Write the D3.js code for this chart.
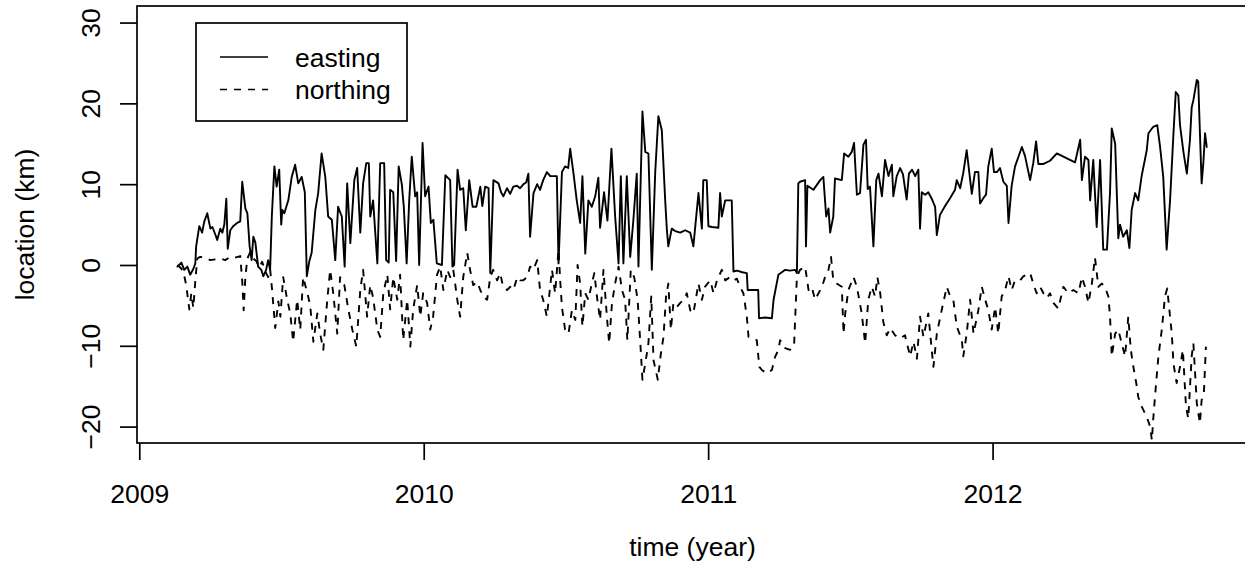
<!DOCTYPE html>
<html><head><meta charset="utf-8">
<script src="https://cdn.jsdelivr.net/npm/d3@7"></script>
<style>
body{margin:0;background:#fff}
svg{display:block}
text{font-family:"Liberation Sans",Arial,Helvetica,sans-serif;fill:#000}
</style>
</head><body>
<svg id="chart" width="1245" height="575"></svg>
<script>
// ---------- data ----------
const eastTime = [2009.134,2009.148,2009.158,2009.169,2009.179,2009.190,2009.197,2009.200,2009.211,2009.221,2009.228,2009.239,2009.250,2009.257,2009.267,2009.274,2009.285,2009.292,2009.299,2009.306,2009.311,2009.320,2009.330,2009.344,2009.355,2009.362,2009.373,2009.380,2009.388,2009.395,2009.401,2009.408,2009.418,2009.429,2009.436,2009.446,2009.453,2009.460,2009.466,2009.475,2009.483,2009.492,2009.499,2009.503,2009.510,2009.524,2009.536,2009.548,2009.559,2009.571,2009.582,2009.589,2009.598,2009.606,2009.619,2009.629,2009.641,2009.654,2009.664,2009.677,2009.689,2009.699,2009.712,2009.722,2009.731,2009.742,2009.756,2009.766,2009.777,2009.787,2009.798,2009.807,2009.812,2009.822,2009.837,2009.847,2009.861,2009.868,2009.877,2009.882,2009.893,2009.903,2009.912,2009.923,2009.930,2009.940,2009.949,2009.958,2009.970,2009.977,2009.984,2009.996,2010.005,2010.017,2010.025,2010.034,2010.046,2010.064,2010.076,2010.093,2010.101,2010.107,2010.119,2010.128,2010.139,2010.148,2010.160,2010.172,2010.185,2010.199,2010.206,2010.216,2010.228,2010.234,2010.245,2010.263,2010.272,2010.280,2010.293,2010.304,2010.315,2010.328,2010.339,2010.351,2010.360,2010.368,2010.374,2010.386,2010.399,2010.409,2010.420,2010.433,2010.445,2010.468,2010.474,2010.486,2010.497,2010.508,2010.515,2010.527,2010.538,2010.550,2010.558,2010.568,2010.579,2010.591,2010.603,2010.614,2010.620,2010.634,2010.646,2010.660,2010.673,2010.685,2010.693,2010.702,2010.714,2010.726,2010.737,2010.749,2010.755,2010.769,2010.779,2010.790,2010.802,2010.814,2010.825,2010.837,2010.849,2010.855,2010.860,2010.872,2010.884,2010.902,2010.919,2010.937,2010.948,2010.966,2010.978,2010.983,2010.995,2011.001,2011.014,2011.036,2011.042,2011.048,2011.060,2011.083,2011.089,2011.102,2011.120,2011.136,2011.139,2011.176,2011.179,2011.200,2011.224,2011.230,2011.247,2011.271,2011.288,2011.306,2011.312,2011.317,2011.323,2011.341,2011.344,2011.349,2011.370,2011.394,2011.405,2011.415,2011.423,2011.429,2011.440,2011.446,2011.470,2011.478,2011.493,2011.505,2011.513,2011.523,2011.534,2011.546,2011.555,2011.561,2011.569,2011.581,2011.591,2011.599,2011.611,2011.622,2011.634,2011.646,2011.651,2011.663,2011.675,2011.685,2011.698,2011.706,2011.717,2011.728,2011.739,2011.745,2011.751,2011.763,2011.774,2011.786,2011.798,2011.804,2011.815,2011.833,2011.851,2011.868,2011.874,2011.886,2011.897,2011.909,2011.918,2011.927,2011.938,2011.950,2011.956,2011.968,2011.977,2011.985,2011.997,2012.005,2012.016,2012.026,2012.038,2012.050,2012.056,2012.067,2012.079,2012.091,2012.103,2012.114,2012.132,2012.143,2012.153,2012.161,2012.179,2012.202,2012.226,2012.249,2012.272,2012.290,2012.308,2012.314,2012.325,2012.337,2012.343,2012.354,2012.366,2012.378,2012.389,2012.402,2012.413,2012.419,2012.431,2012.442,2012.448,2012.459,2012.472,2012.481,2012.489,2012.501,2012.512,2012.524,2012.542,2012.548,2012.565,2012.579,2012.589,2012.600,2012.612,2012.624,2012.636,2012.644,2012.653,2012.659,2012.671,2012.683,2012.694,2012.700,2012.706,2012.718,2012.723,2012.729,2012.735,2012.741,2012.747,2012.753];
const eastKm = [-0.2,0.3,-0.6,-0.2,-1.2,-0.5,0.2,2.3,4.8,4.0,5.3,6.4,4.5,4.7,3.8,3.1,4.5,4.0,5.0,8.2,2.0,4.3,4.8,5.2,5.4,10.3,7.0,6.4,2.3,0.6,3.5,2.8,-0.2,-0.6,-1.4,-0.6,0.6,-0.6,6.0,12.2,9.7,11.8,5.0,6.8,6.4,8.0,10.9,12.4,10.1,10.9,9.0,-1.4,0.5,1.5,6.8,8.9,13.8,10.9,6.0,5.6,0.6,7.2,6.0,-0.2,10.1,2.7,10.5,12.0,4.0,10.1,12.6,12.6,6.0,8.0,0.2,12.6,12.6,0.6,0.3,9.3,9.0,0.5,12.2,10.0,7.2,0.2,8.0,13.4,8.5,9.0,0.0,15.1,8.5,9.7,5.2,5.6,0.2,0.0,11.1,10.5,-0.2,0.0,11.8,9.3,9.5,4.3,10.5,7.2,7.2,9.7,7.3,9.7,9.5,-1.0,10.5,10.1,9.0,8.5,9.5,8.8,9.7,9.8,9.5,10.0,10.2,11.3,3.5,8.9,10.0,9.3,10.5,11.5,11.0,11.0,0.2,11.5,12.2,12.0,14.4,11.2,8.0,5.2,11.0,1.4,8.0,7.2,8.5,10.8,4.6,9.0,5.5,14.4,6.0,0.2,11.0,0.2,11.0,1.0,5.5,11.3,-0.2,19.0,14.0,13.8,-0.6,11.5,18.4,16.7,8.0,4.3,2.3,4.5,4.2,4.0,4.3,4.0,2.3,8.9,4.5,10.5,10.5,4.8,4.7,4.6,8.9,6.0,8.0,8.0,-0.8,-0.7,-0.9,-1.0,-3.1,-3.1,-6.6,-6.5,-6.6,-4.3,-1.2,-0.6,-0.7,-0.6,-1.0,10.1,10.3,10.5,2.3,9.8,9.3,10.5,10.9,6.0,7.0,4.0,6.0,10.7,10.5,13.8,13.4,14.0,15.1,8.7,8.9,14.9,15.5,9.4,9.7,2.3,10.5,11.3,8.5,13.0,11.0,12.4,8.5,11.0,12.0,11.2,8.1,11.3,11.8,11.0,11.8,4.5,9.0,8.7,9.0,8.2,7.2,3.7,6.2,7.3,8.3,9.3,10.5,9.5,11.4,14.2,11.5,8.8,11.5,11.5,7.6,8.3,8.7,12.2,14.4,11.5,11.5,12.0,10.3,9.8,5.2,9.8,12.2,13.4,14.6,13.5,10.5,12.6,15.3,12.5,12.5,12.9,13.8,13.4,13.0,12.7,15.5,10.5,13.4,13.0,8.0,13.0,4.7,13.0,1.9,1.9,9.0,16.9,15.0,3.3,5.0,3.5,4.3,2.1,6.8,8.9,8.0,11.0,14.2,16.3,17.1,17.3,14.6,10.9,1.9,8.0,16.3,21.4,21.0,17.3,14.0,11.3,15.5,19.5,20.4,22.9,22.7,16.3,10.1,12.6,16.3,14.6];

const northTime = [2009.134,2009.144,2009.155,2009.165,2009.176,2009.183,2009.190,2009.197,2009.204,2009.214,2009.232,2009.250,2009.267,2009.285,2009.302,2009.320,2009.337,2009.355,2009.362,2009.367,2009.373,2009.380,2009.390,2009.401,2009.411,2009.422,2009.432,2009.443,2009.453,2009.460,2009.467,2009.478,2009.489,2009.496,2009.506,2009.520,2009.531,2009.541,2009.555,2009.566,2009.576,2009.591,2009.601,2009.612,2009.626,2009.636,2009.647,2009.661,2009.671,2009.682,2009.696,2009.706,2009.721,2009.735,2009.749,2009.763,2009.777,2009.787,2009.801,2009.812,2009.822,2009.837,2009.847,2009.858,2009.872,2009.882,2009.893,2009.907,2009.917,2009.928,2009.942,2009.953,2009.963,2009.977,2009.988,2009.998,2010.012,2010.023,2010.033,2010.047,2010.058,2010.069,2010.083,2010.093,2010.104,2010.118,2010.128,2010.139,2010.153,2010.163,2010.174,2010.188,2010.199,2010.209,2010.223,2010.234,2010.244,2010.258,2010.269,2010.279,2010.293,2010.304,2010.315,2010.329,2010.339,2010.350,2010.364,2010.374,2010.385,2010.399,2010.409,2010.420,2010.433,2010.451,2010.462,2010.474,2010.480,2010.486,2010.497,2010.509,2010.521,2010.533,2010.541,2010.550,2010.558,2010.568,2010.579,2010.591,2010.600,2010.609,2010.620,2010.632,2010.644,2010.652,2010.662,2010.673,2010.685,2010.697,2010.708,2010.716,2010.728,2010.740,2010.752,2010.761,2010.769,2010.779,2010.790,2010.800,2010.808,2010.823,2010.834,2010.843,2010.852,2010.860,2010.869,2010.878,2010.890,2010.902,2010.913,2010.925,2010.937,2010.948,2010.966,2010.978,2010.989,2011.007,2011.019,2011.031,2011.048,2011.060,2011.077,2011.089,2011.101,2011.112,2011.124,2011.136,2011.142,2011.154,2011.171,2011.180,2011.189,2011.206,2011.224,2011.235,2011.247,2011.253,2011.271,2011.288,2011.302,2011.312,2011.323,2011.341,2011.353,2011.364,2011.376,2011.388,2011.400,2011.411,2011.423,2011.432,2011.440,2011.452,2011.470,2011.476,2011.482,2011.493,2011.511,2011.523,2011.540,2011.552,2011.563,2011.575,2011.587,2011.595,2011.605,2011.616,2011.628,2011.640,2011.657,2011.675,2011.692,2011.710,2011.722,2011.734,2011.745,2011.757,2011.774,2011.786,2011.792,2011.804,2011.821,2011.839,2011.851,2011.862,2011.874,2011.892,2011.897,2011.909,2011.921,2011.933,2011.950,2011.962,2011.974,2011.985,2011.997,2012.009,2012.020,2012.032,2012.044,2012.056,2012.067,2012.079,2012.097,2012.108,2012.132,2012.143,2012.155,2012.167,2012.179,2012.191,2012.202,2012.214,2012.231,2012.249,2012.266,2012.284,2012.302,2012.314,2012.325,2012.337,2012.349,2012.360,2012.372,2012.384,2012.395,2012.407,2012.413,2012.419,2012.431,2012.442,2012.454,2012.466,2012.477,2012.486,2012.495,2012.507,2012.512,2012.524,2012.542,2012.554,2012.560,2012.565,2012.571,2012.577,2012.583,2012.595,2012.606,2012.614,2012.624,2012.630,2012.636,2012.647,2012.659,2012.669,2012.680,2012.688,2012.700,2012.706,2012.712,2012.718,2012.729,2012.735,2012.743,2012.750];
const northKm = [0.0,-0.3,-0.8,-2.5,-5.5,-3.5,-5.3,-2.0,0.8,1.0,0.9,0.6,0.7,0.8,0.6,1.0,0.9,1.1,-2.0,-5.6,-1.5,0.8,1.6,0.8,0.5,-0.3,0.4,-0.8,-1.5,-0.5,-3.1,-7.8,-4.5,-6.4,-1.5,-4.3,-6.0,-9.5,-4.3,-8.0,-1.5,-3.5,-5.0,-9.5,-6.0,-8.5,-10.5,-4.3,-0.6,-3.5,-8.5,-1.5,-2.5,-5.5,-8.0,-10.1,-3.1,-0.6,-6.4,-2.5,-4.0,-8.0,-8.9,-3.5,-1.2,-5.5,-1.5,-4.3,-1.2,-9.3,-4.3,-10.1,-5.5,-2.5,-6.4,-3.5,-4.7,-8.0,-6.4,-1.2,-0.2,-3.1,-0.6,-1.5,-0.6,-4.3,-6.4,-1.5,1.5,-0.6,-2.5,-2.1,-3.1,-3.9,-4.3,-1.5,-0.6,-1.9,-1.0,-2.7,-3.1,-2.7,-3.1,-1.5,-1.9,-1.9,-1.5,-0.2,-0.6,0.6,-3.1,-4.3,-6.4,-0.6,-3.5,1.9,-2.0,-5.2,-8.0,-8.5,-5.6,-6.8,0.0,-2.3,-7.6,-3.5,-4.3,-2.3,-1.0,-3.9,-6.8,-0.6,-6.4,-9.7,-4.7,-2.3,-0.2,-3.1,-4.3,-9.3,-0.6,-1.5,-4.3,-9.3,-14.2,-12.2,-9.7,-3.9,-11.8,-14.2,-10.9,-8.9,-3.9,-2.3,-8.0,-4.7,-5.2,-4.7,-4.3,-3.5,-5.6,-6.0,-2.3,-4.3,-2.7,-1.9,-3.5,-1.9,-0.6,-1.9,-1.5,-1.9,-1.7,-2.7,-3.5,-6.4,-8.9,-9.1,-9.3,-12.6,-13.0,-13.4,-13.0,-11.4,-10.5,-9.3,-10.3,-10.5,-10.1,-1.5,-0.6,-0.2,-3.1,-2.7,-4.3,-3.5,-2.7,-1.5,-0.6,1.0,-1.9,-2.3,-2.7,-8.5,-6.0,-3.1,-1.5,-2.7,-6.0,-9.7,-4.3,-2.7,-3.9,-1.5,-3.5,-7.1,-8.7,-7.8,-8.7,-9.1,-8.7,-11.3,-9.5,-11.6,-6.4,-8.9,-6.0,-10.5,-12.6,-8.5,-5.6,-2.7,-3.9,-4.3,-7.6,-9.3,-11.3,-8.5,-4.3,-8.5,-5.6,-2.7,-4.3,-5.6,-8.0,-5.2,-8.5,-3.9,-3.1,-1.4,-3.1,-1.9,-1.9,-1.4,-1.0,-2.3,-3.5,-2.7,-3.5,-4.1,-3.5,-4.7,-5.4,-2.7,-3.5,-3.1,-3.5,-1.5,-2.7,-4.7,-2.3,0.9,-2.7,-2.3,-2.7,-3.9,-6.4,-11.3,-8.5,-8.0,-9.7,-11.3,-6.4,-10.5,-12.6,-15.0,-16.3,-17.5,-18.8,-20.0,-21.7,-19.0,-16.3,-13.8,-11.3,-8.0,-3.9,-2.9,-6.4,-8.5,-12.2,-14.6,-12.6,-10.5,-17.5,-19.0,-11.3,-9.7,-13.4,-17.1,-19.6,-16.7,-15.8,-10.1];

const xTicks = [2009, 2010, 2011, 2012];
const yTicks = [-20, -10, 0, 10, 20, 30];
const seriesNames = ["easting", "northing"];
const xTitle = "time (year)";
const yTitle = "location (km)";
const xLimits = [2008.992, 2012.898];
const yLimits = [-22.03, 32.05];

// ---------- layout ----------
const FS = 26.5;
const LW = 1.7;
const plot = {left: 137, right: 1248, top: 6, bottom: 443};
const svg = d3.select("#chart");

const x = d3.scaleLinear().domain(xLimits).range([plot.left, plot.right]);
const y = d3.scaleLinear().domain(yLimits).range([plot.bottom, plot.top]);

const east = eastTime.map((t, i) => ({t, v: eastKm[i]}));
const north = northTime.map((t, i) => ({t, v: northKm[i]}));
const line = d3.line().x(d => x(d.t)).y(d => y(d.v));

svg.append("path").datum(east).attr("d", line)
  .attr("fill", "none").attr("stroke", "#000").attr("stroke-width", 1.9)
  .attr("stroke-linejoin", "round").attr("stroke-linecap", "round");
svg.append("path").datum(north).attr("d", line)
  .attr("fill", "none").attr("stroke", "#000").attr("stroke-width", 1.9)
  .attr("stroke-dasharray", "7,7").attr("stroke-linejoin", "round");

// box
svg.append("rect").attr("x", plot.left).attr("y", plot.top)
  .attr("width", plot.right - plot.left).attr("height", plot.bottom - plot.top)
  .attr("fill", "none").attr("stroke", "#000").attr("stroke-width", LW);

// x axis
const gx = svg.append("g").attr("transform", `translate(0,${plot.bottom})`)
  .call(d3.axisBottom(x).tickValues(xTicks).tickSize(17).tickFormat(d3.format("d")));
gx.select(".domain").remove();
gx.selectAll(".tick line").attr("stroke", "#000").attr("stroke-width", LW);
gx.selectAll(".tick text").attr("y", 60).attr("dy", 0)
  .style("font-size", FS + "px").style("font-family", '"Liberation Sans",Arial,sans-serif').attr("fill", "#000");

// y axis
const gy = svg.append("g").attr("transform", `translate(${plot.left},0)`)
  .call(d3.axisLeft(y).tickValues(yTicks).tickSize(17).tickFormat(d => d < 0 ? "\u2212" + Math.abs(d) : d));
gy.select(".domain").remove();
gy.selectAll(".tick line").attr("stroke", "#000").attr("stroke-width", LW);
gy.selectAll(".tick text").attr("x", 0).attr("dy", 0).attr("y", 0)
  .attr("text-anchor", "middle").attr("transform", "translate(-37,0) rotate(-90)")
  .style("font-size", FS + "px").style("font-family", '"Liberation Sans",Arial,sans-serif').attr("fill", "#000");

// titles
svg.append("text").attr("x", (plot.left + plot.right) / 2).attr("y", 556)
  .attr("text-anchor", "middle").style("font-size", FS + "px").text(xTitle);
svg.append("text").attr("transform", `translate(34,${(plot.top + plot.bottom) / 2}) rotate(-90)`)
  .attr("text-anchor", "middle").style("font-size", FS + "px").text(yTitle);

// legend
const lg = svg.append("g");
lg.append("rect").attr("x", 196).attr("y", 23).attr("width", 211).attr("height", 98)
  .attr("fill", "#fff").attr("stroke", "#000").attr("stroke-width", LW);
const dashes = [null, "7,7"];
seriesNames.forEach((name, i) => {
  const yy = 57 + i * 32.5;
  const l = lg.append("line").attr("x1", 220).attr("x2", 268).attr("y1", yy).attr("y2", yy)
    .attr("stroke", "#000").attr("stroke-width", LW);
  if (dashes[i]) l.attr("stroke-dasharray", dashes[i]);
  lg.append("text").attr("x", 295).attr("y", yy + 9.5).style("font-size", FS + "px").text(name);
});
</script>
</body></html>
